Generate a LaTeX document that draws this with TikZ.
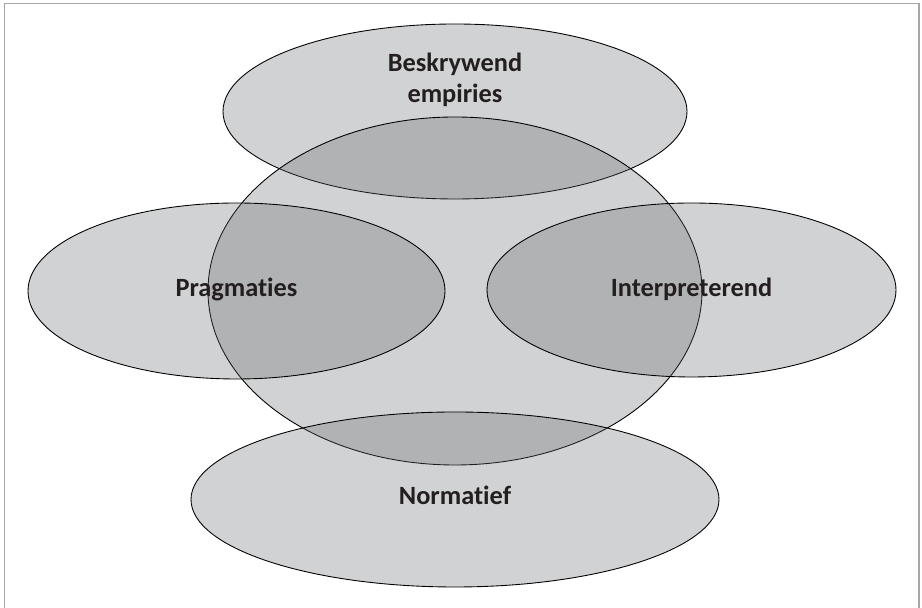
\documentclass[tikz,border=0pt]{standalone}
\usepackage{fontspec}
\setmainfont{Carlito}[Ligatures=NoCommon]
\definecolor{zonegray}{RGB}{104,105,108}
\definecolor{textdark}{RGB}{35,31,32}
\begin{document}
\begin{tikzpicture}[
    zone/.style={draw=black, line width=0.5pt, fill=zonegray, fill opacity=0.3},
    lbl/.style={text=textdark, font=\fontsize{15}{18.2}\selectfont\bfseries, align=center}
  ]
        \useasboundingbox (0,0) rectangle (18.44,12.16);
        \draw[gray!70, line width=1.1pt] (0.09,0) -- (0.09,12.09) -- (18.38,12.09) -- (18.38,0);

        \draw[zone] (9.10,9.93) ellipse (4.64 and 1.75);
        \draw[zone] (9.10,6.34) ellipse (4.94 and 3.48);
        \draw[zone] (4.73,6.34) ellipse (4.17 and 1.76);
        \draw[zone] (13.83,6.36) ellipse (4.09 and 1.74);
        \draw[zone] (9.10,2.17) ellipse (5.28 and 1.75);

        \node[lbl, anchor=base] (beskrywend) at (9.10,10.10) {Beskrywend\\empiries};
        \node[lbl, anchor=base] (pragmaties) at (4.73,6.22) {Pragmaties};
        \node[lbl, anchor=base] (interpreterend) at (13.83,6.22) {Interpreterend};
        \node[lbl, anchor=base] (normatief) at (9.10,2.06) {Normatief};
    \end{tikzpicture}
\end{document}
